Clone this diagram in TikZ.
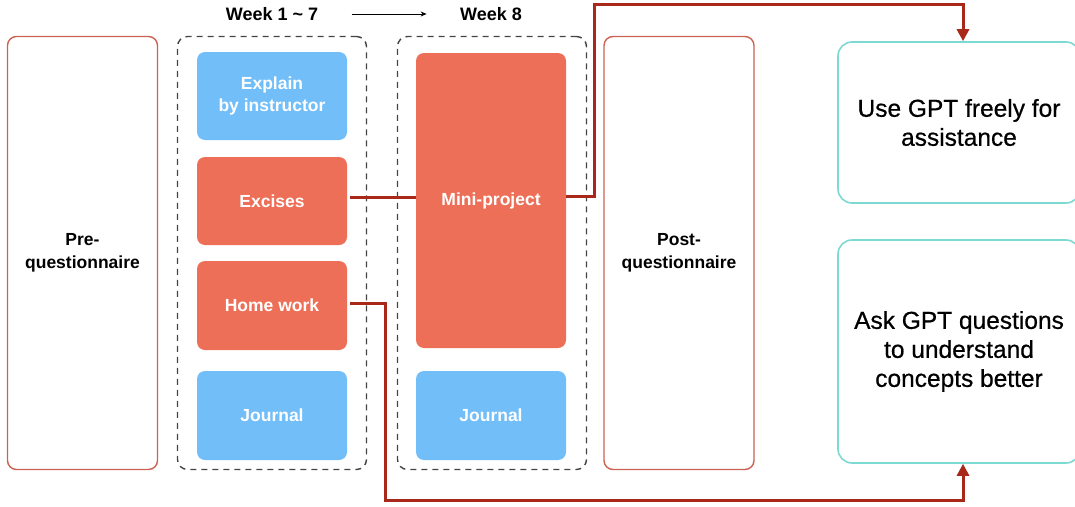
\documentclass[tikz,border=0pt]{standalone}
\usepackage{fontspec}
\setmainfont{Liberation Sans}
\newfontfamily\medfont[FakeBold=0.6]{Liberation Sans}
\usetikzlibrary{arrows.meta,positioning}
\definecolor{cblue}{HTML}{72BEF9}
\definecolor{corange}{HTML}{EE6F57}
\definecolor{cred}{HTML}{A8291A}
\definecolor{cborder}{HTML}{CC6252}
\definecolor{cteal}{HTML}{7DDAD2}
\definecolor{cdash}{HTML}{444444}
\tikzset{
  fillbox/.style={rounded corners=8pt, minimum width=150pt, text=white, align=center,
    font=\fontsize{17.5}{22}\selectfont\bfseries, inner sep=0pt},
  bluebox/.style={fillbox, fill=cblue},
  orangebox/.style={fillbox, fill=corange},
  qbox/.style={draw=cborder, line width=1.4pt, rounded corners=9pt, minimum width=150pt,
    minimum height=433pt, align=center, font=\fontsize{17.5}{23.5}\selectfont\bfseries, inner sep=0pt},
  dashbox/.style={draw=cdash, line width=1.4pt, dash pattern=on 6pt off 5pt, rounded corners=10pt,
    minimum width=189pt, minimum height=433pt, inner sep=0pt},
  gptbox/.style={draw=cteal, line width=1.6pt, rounded corners=14pt, minimum width=242pt,
    align=center, font=\medfont\fontsize{24.5}{29}\selectfont, inner sep=0pt},
  weeklabel/.style={font=\fontsize{18}{20}\selectfont\bfseries},
  conn/.style={draw=cred, line width=3pt},
  connarrow/.style={conn, -{Triangle[width=12pt,length=12pt]}},
}
\begin{document}
\begin{tikzpicture}[x=1pt,y=-1pt]
\useasboundingbox (0,0) rectangle (1075,506);
% containers
\node[dashbox] (d1) at (272,253) {};
\node[dashbox] (d2) at (492,253) {};
\node[qbox] (pre) at (82.5,253) {Pre-\\questionnaire};
\node[qbox] (post) at (679,253) {Post-\\questionnaire};
% inner boxes
\node[bluebox, minimum height=88pt] (explain) at (272,96) {Explain\\by instructor};
\node[orangebox, minimum height=88pt] (ex) at (272,201) {Excises};
\node[orangebox, minimum height=89pt] (hw) at (272,305.5) {Home work};
\node[bluebox, minimum height=89pt] (j1) at (272,415.5) {Journal};
\node[orangebox, minimum height=295pt] (mini) at (491,200.5) {Mini-project};
\node[bluebox, minimum height=89pt] (j2) at (491,415.5) {Journal};
% GPT boxes
\node[gptbox, minimum height=161pt] (g1) at (959,122.5) {Use GPT freely for\\assistance};
\node[gptbox, minimum height=223pt] (g2) at (959,351.5) {Ask GPT questions\\to understand\\concepts better};
% week labels
\node[weeklabel] (w1) at (272,14) {Week 1 \textasciitilde{} 7};
\node[weeklabel] (w8) at (491,14) {Week 8};
\draw[line width=1pt, -{Stealth[width=5pt,length=6pt]}] ([xshift=30pt]w1.east) -- ([xshift=-30pt]w8.west);
% connectors
\draw[conn] ([xshift=3pt,yshift=4pt]ex.east) -- ([yshift=4pt]ex.east -| mini.west);
\coordinate (c1) at (594,4);
\draw[connarrow] ([yshift=4pt]mini.east) -| (c1) -| ([xshift=4pt]g1.north);
\coordinate (c2) at (385,500);
\draw[connarrow] ([xshift=3pt,yshift=2pt]hw.east) -| (c2) -| ([xshift=4pt]g2.south);
\end{tikzpicture}
\end{document}
